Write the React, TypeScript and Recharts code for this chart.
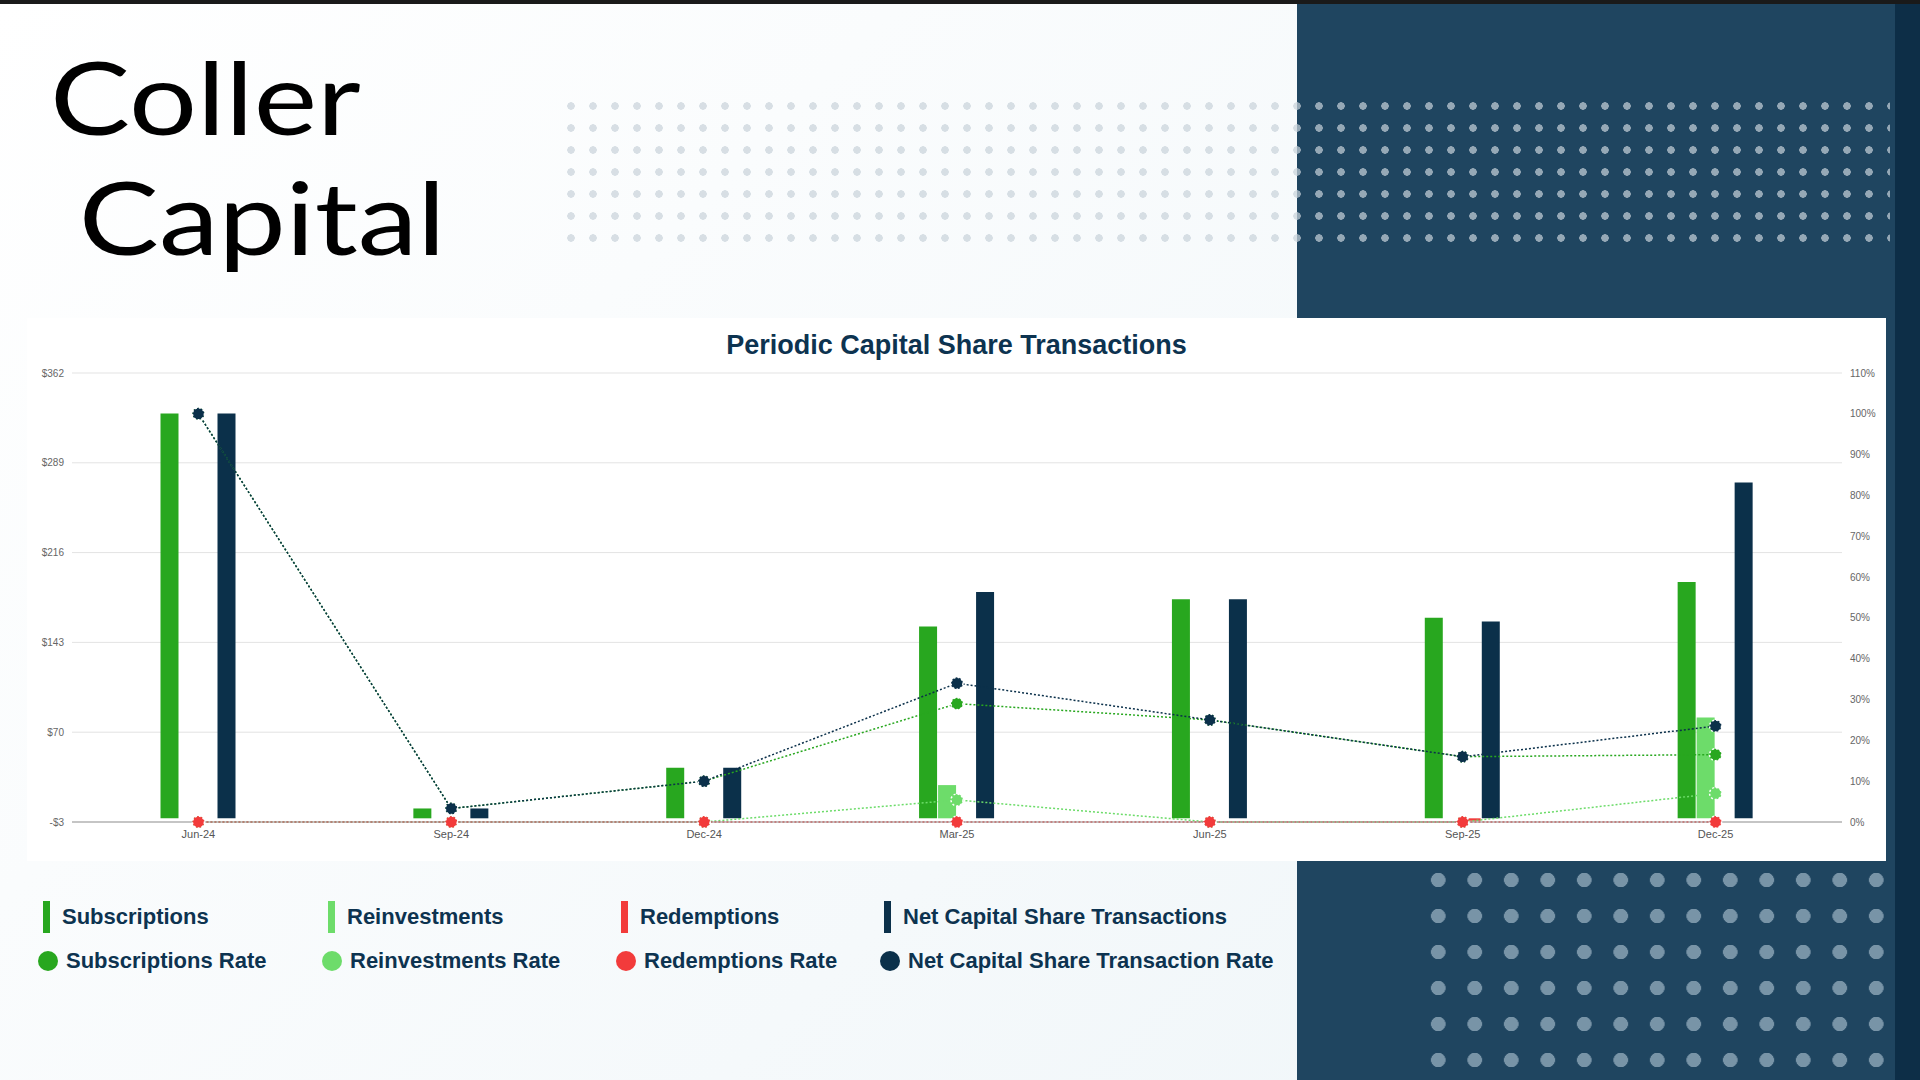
import { ComposedChart, Bar, Line, XAxis, YAxis, CartesianGrid } from 'recharts';

const periods = ['Jun-24', 'Sep-24', 'Dec-24', 'Mar-25', 'Jun-25', 'Sep-25', 'Dec-25'];
const subscriptions = [329, 8, 41, 156, 178, 163, 192];
const reinvestments = [0, 0, 0, 27, 0, 0, 82];
const redemptions = [0, 0, 0, 0, 0, -2, 0];
const netTransactions = [329, 8, 41, 184, 178, 160, 273];
const subscriptionsRate = [100, 3.3, 10, 29, 25, 16, 16.5];
const reinvestmentsRate = [0, 0, 0, 5.4, 0, 0, 7];
const redemptionsRate = [0, 0, 0, 0, 0, 0, 0];
const netRate = [100, 3.3, 10, 34, 25, 16, 23.5];
const dollarTicks = [-3, 70, 143, 216, 289, 362];
const pctTicks = [0, 10, 20, 30, 40, 50, 60, 70, 80, 90, 100, 110];

const data = periods.map((p, i) => ({
  period: p,
  subs: subscriptions[i],
  reinv: reinvestments[i],
  redem: redemptions[i],
  net: netTransactions[i],
  subsRate: subscriptionsRate[i],
  reinvRate: reinvestmentsRate[i],
  redemRate: redemptionsRate[i],
  netRate: netRate[i],
}));

const GREEN = '#28a71f';
const LIGHT = '#6ddc6a';
const RED = '#f23b3b';
const NAVY = '#0b304a';

const dot = (c: string) => ({ r: 6, fill: c, stroke: '#fff', strokeWidth: 1.5 });

const legendBars = [
  ['Subscriptions', GREEN, 43],
  ['Reinvestments', LIGHT, 328],
  ['Redemptions', RED, 621],
  ['Net Capital Share Transactions', NAVY, 884],
] as const;
const legendDots = [
  ['Subscriptions Rate', GREEN, 38],
  ['Reinvestments Rate', LIGHT, 322],
  ['Redemptions Rate', RED, 616],
  ['Net Capital Share Transaction Rate', NAVY, 880],
] as const;

export default function App() {
  const font = '"Liberation Sans", Arial, sans-serif';
  return (
    <div style={{ position: 'fixed', left: 0, top: 0, width: 1920, height: 1080, overflow: 'hidden', background: 'linear-gradient(135deg, #ffffff 0%, #f5f9fb 60%, #eef5f8 100%)', fontFamily: font }}>
      <div style={{ position: 'absolute', left: 0, top: 0, width: 1920, height: 4, background: '#1a1a1a' }} />
      <div style={{ position: 'absolute', left: 1297, top: 4, width: 623, height: 1076, background: '#1f4560' }} />
      <div style={{ position: 'absolute', left: 1895, top: 4, width: 25, height: 1076, background: '#0d2e47' }} />
      {/* dotted decoration */}
      <div style={{ position: 'absolute', left: 560, top: 95, width: 1330, height: 150, backgroundImage: 'radial-gradient(circle, rgba(200,210,218,0.7) 3.5px, transparent 4px)', backgroundSize: '22px 22px' }} />
      <div style={{ position: 'absolute', left: 1420, top: 862, width: 470, height: 210, backgroundImage: 'radial-gradient(circle, rgba(180,200,215,0.6) 7px, transparent 7.5px)', backgroundSize: '36.5px 36px' }} />
      <div style={{ position: 'absolute', left: 50, top: 36, fontFamily: 'Lato, sans-serif', fontSize: 100, lineHeight: '120px', color: '#000', transform: 'scaleX(1.2)', transformOrigin: 'left top' }}>
        <div>Coller</div>
        <div style={{ marginLeft: 24 }}>Capital</div>
      </div>
      <div style={{ position: 'absolute', left: 27, top: 318, width: 1859, height: 543, background: '#fff' }}>
        <div style={{ position: 'absolute', left: 0, top: 12, width: 1859, textAlign: 'center', fontSize: 27, fontWeight: 700, color: '#0d3350' }}>
          Periodic Capital Share Transactions
        </div>
        <ComposedChart width={1859} height={543} data={data} margin={{ top: 55, right: 0, bottom: 14, left: 0 }} barGap={1} barCategoryGap="35%">
          <CartesianGrid yAxisId="l" vertical={false} stroke="#e3e3e3" />
          <XAxis dataKey="period" tick={{ fontSize: 11, fill: '#555' }} tickLine={false} axisLine={{ stroke: '#999' }} height={25} />
          <YAxis yAxisId="l" domain={[-3, 362]} ticks={dollarTicks} width={45} tick={{ fontSize: 10, fill: '#666' }} tickLine={false} axisLine={false} tickFormatter={(v: number) => (v < 0 ? `-$${-v}` : `$${v}`)} />
          <YAxis yAxisId="r" orientation="right" domain={[0, 110]} ticks={pctTicks} width={44} tick={{ fontSize: 10, fill: '#666' }} tickLine={false} axisLine={false} tickFormatter={(v: number) => `${v}%`} />
          <Bar yAxisId="l" dataKey="subs" fill={GREEN} isAnimationActive={false} />
          <Bar yAxisId="l" dataKey="reinv" fill={LIGHT} isAnimationActive={false} />
          <Bar yAxisId="l" dataKey="redem" fill={RED} isAnimationActive={false} />
          <Bar yAxisId="l" dataKey="net" fill={NAVY} isAnimationActive={false} />
          <Line yAxisId="r" dataKey="reinvRate" stroke={LIGHT} strokeDasharray="2 2" strokeWidth={1.5} dot={dot(LIGHT)} isAnimationActive={false} />
          <Line yAxisId="r" dataKey="subsRate" stroke={GREEN} strokeDasharray="2 2" strokeWidth={1.5} dot={dot(GREEN)} isAnimationActive={false} />
          <Line yAxisId="r" dataKey="netRate" stroke={NAVY} strokeDasharray="2 2" strokeWidth={1.5} dot={dot(NAVY)} isAnimationActive={false} />
          <Line yAxisId="r" dataKey="redemRate" stroke={RED} strokeDasharray="2 2" strokeWidth={1.5} dot={dot(RED)} isAnimationActive={false} />
        </ComposedChart>
      </div>
      {legendBars.map(([label, c, x]) => (
        <div key={label} style={{ position: 'absolute', left: x, top: 901, display: 'flex', alignItems: 'center', fontSize: 22, fontWeight: 700, color: '#0d3350' }}>
          <span style={{ display: 'inline-block', width: 7, height: 32, background: c, marginRight: 12 }} />
          {label}
        </div>
      ))}
      {legendDots.map(([label, c, x]) => (
        <div key={label} style={{ position: 'absolute', left: x, top: 948, display: 'flex', alignItems: 'center', fontSize: 22, fontWeight: 700, color: '#0d3350' }}>
          <span style={{ display: 'inline-block', width: 20, height: 20, borderRadius: 10, background: c, marginRight: 8 }} />
          {label}
        </div>
      ))}
    </div>
  );
}
